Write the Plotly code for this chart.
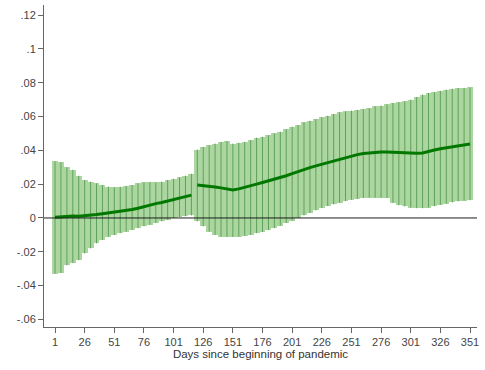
import plotly.graph_objects as go

days = list(range(1, 352, 5))

estimate = [0.0005, 0.0008, 0.0010, 0.0012, 0.0010, 0.0012, 0.0015, 0.0020, 0.0025, 0.0030,
            0.0033, 0.0038, 0.0043, 0.0050, 0.0058, 0.0068, 0.0078, 0.0085, 0.0092, 0.0100,
            0.0108, 0.0115, 0.0125, 0.0135, 0.0195, 0.0192, 0.0188, 0.0183, 0.0178, 0.0172,
            0.0165, 0.0172, 0.0180, 0.0190, 0.0200, 0.0210, 0.0220, 0.0228, 0.0237, 0.0250,
            0.0262, 0.0275, 0.0288, 0.0298, 0.0308, 0.0318, 0.0328, 0.0338, 0.0348, 0.0358,
            0.0368, 0.0375, 0.0382, 0.0386, 0.0388, 0.0390, 0.0390, 0.0388, 0.0385, 0.0387,
            0.0385, 0.0383, 0.0385, 0.0395, 0.0402, 0.0410, 0.0415, 0.0420, 0.0428, 0.0433,
            0.0438]

upper = [0.0335, 0.0330, 0.0300, 0.0285, 0.0250, 0.0225, 0.0215, 0.0205, 0.0195, 0.0185,
         0.0182, 0.0185, 0.0190, 0.0195, 0.0205, 0.0210, 0.0212, 0.0210, 0.0215, 0.0225,
         0.0232, 0.0240, 0.0250, 0.0262, 0.0405, 0.0420, 0.0430, 0.0440, 0.0450, 0.0455,
         0.0440, 0.0445, 0.0450, 0.0460, 0.0475, 0.0480, 0.0490, 0.0500, 0.0510, 0.0525,
         0.0540, 0.0550, 0.0565, 0.0575, 0.0585, 0.0595, 0.0605, 0.0615, 0.0625, 0.0630,
         0.0635, 0.0640, 0.0645, 0.0650, 0.0660, 0.0665, 0.0672, 0.0680, 0.0685, 0.0690,
         0.0700, 0.0715, 0.0730, 0.0740, 0.0745, 0.0752, 0.0760, 0.0765, 0.0768, 0.0770,
         0.0772]

lower = [-0.0330, -0.0325, -0.0280, -0.0265, -0.0250, -0.0210, -0.0180, -0.0150, -0.0130, -0.0110,
         -0.0100, -0.0090, -0.0080, -0.0070, -0.0060, -0.0050, -0.0040, -0.0030, -0.0020, -0.0010,
         0.0000, 0.0005, 0.0010, 0.0015, -0.0020, -0.0050, -0.0080, -0.0100, -0.0110, -0.0112,
         -0.0112, -0.0110, -0.0105, -0.0100, -0.0090, -0.0082, -0.0072, -0.0060, -0.0045, -0.0030,
         -0.0015, 0.0000, 0.0015, 0.0030, 0.0045, 0.0058, 0.0070, 0.0080, 0.0090, 0.0100,
         0.0108, 0.0113, 0.0118, 0.0120, 0.0120, 0.0120, 0.0118, 0.0090, 0.0075, 0.0068,
         0.0062, 0.0058, 0.0058, 0.0062, 0.0070, 0.0078, 0.0085, 0.0092, 0.0098, 0.0103,
         0.0105]

break_day = 121  # estimate line is interrupted before this day

x_ticks = list(range(1, 352, 25))
y_ticks = [-0.06, -0.04, -0.02, 0, 0.02, 0.04, 0.06, 0.08, 0.1, 0.12]
y_labels = ["-.06", "-.04", "-.02", "0", ".02", ".04", ".06", ".08", ".1", ".12"]

# build line with a gap at the break
idx = days.index(break_day)
line_x = days[:idx] + [None] + days[idx:]
line_y = estimate[:idx] + [None] + estimate[idx:]

# vertical CI spikes
spike_x, spike_y = [], []
for d, lo, hi in zip(days, lower, upper):
    spike_x += [d, d, None]
    spike_y += [lo, hi, None]

fig = go.Figure()
fig.add_trace(go.Bar(
    x=days,
    y=[u - l for u, l in zip(upper, lower)],
    base=lower,
    width=5,
    marker=dict(color="rgb(172,214,160)", line=dict(width=0)),
    showlegend=False,
    hoverinfo="skip",
))
fig.add_trace(go.Scatter(
    x=spike_x, y=spike_y, mode="lines",
    line=dict(color="rgb(95,160,90)", width=1),
    showlegend=False, hoverinfo="skip",
))

fig.add_shape(type="line", xref="paper", yref="y", x0=0, x1=1, y0=0, y1=0,
              line=dict(color="rgb(30,30,30)", width=1), layer="above")

fig.add_trace(go.Scatter(
    x=line_x, y=line_y, mode="lines",
    line=dict(color="rgb(0,120,0)", width=3),
    connectgaps=False, showlegend=False,
))

fig.update_layout(
    width=485, height=370,
    margin=dict(l=44, r=8, t=5, b=43),
    paper_bgcolor="white", plot_bgcolor="white",
    font=dict(family="Liberation Sans, Arial, sans-serif", size=11, color="#444"),
    bargap=0,
)
fig.update_xaxes(
    range=[-8.3, 356.9], tickvals=x_ticks,
    ticks="outside", ticklen=5, tickcolor="#666", showline=True, linecolor="#666", linewidth=1,
    showgrid=False, zeroline=False,
    title=dict(text="Days since beginning of pandemic", font=dict(size=11.5, color="#333"), standoff=2),
    tickfont=dict(size=11, color="#444"),
)
fig.update_yaxes(
    range=[-0.0645, 0.126], tickvals=y_ticks, ticktext=y_labels,
    ticks="outside", ticklen=5, tickcolor="#666", showline=True, linecolor="#666", linewidth=1,
    showgrid=False, zeroline=False,
    tickfont=dict(size=11, color="#444"),
)

fig.write_html("out.html")
